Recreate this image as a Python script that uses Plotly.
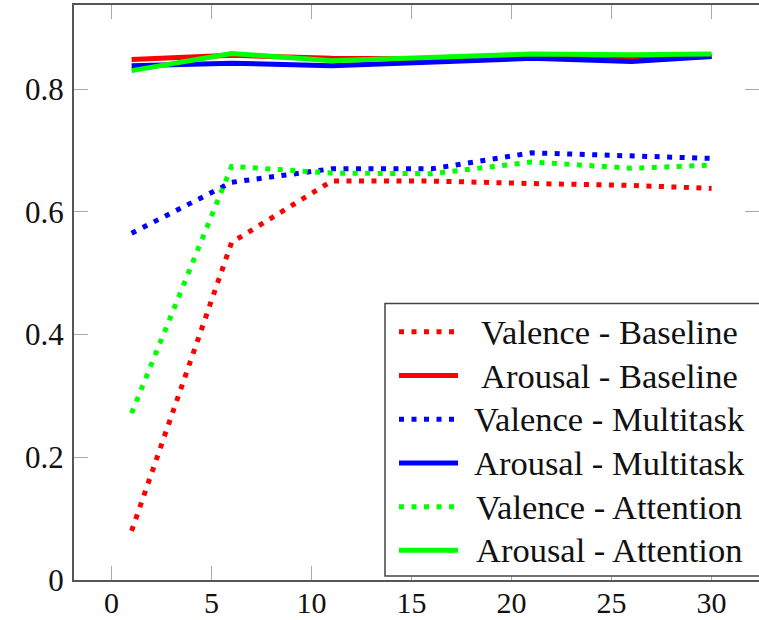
import plotly.graph_objects as go

epochs = [1, 6, 11, 16, 21, 26, 30]
valence_baseline = [0.080, 0.550, 0.650, 0.650, 0.646, 0.643, 0.638]
arousal_baseline = [0.848, 0.855, 0.850, 0.849, 0.851, 0.850, 0.853]
valence_multitask = [0.565, 0.648, 0.670, 0.670, 0.696, 0.692, 0.687]
arousal_multitask = [0.838, 0.842, 0.838, 0.843, 0.850, 0.845, 0.853]
valence_attention = [0.272, 0.674, 0.663, 0.662, 0.681, 0.671, 0.676]
arousal_attention = [0.830, 0.858, 0.846, 0.852, 0.857, 0.856, 0.857]

series_names = ["Valence - Baseline", "Arousal - Baseline",
                "Valence - Multitask", "Arousal - Multitask",
                "Valence - Attention", "Arousal - Attention"]
series_values = [valence_baseline, arousal_baseline, valence_multitask,
                 arousal_multitask, valence_attention, arousal_attention]

x_ticks = [0, 5, 10, 15, 20, 25, 30]
y_ticks = [0, 0.2, 0.4, 0.6, 0.8]
y_tick_labels = ["0", "0.2", "0.4", "0.6", "0.8"]

# styles
colors = ["#ff0000", "#ff0000", "#0000ff", "#0000ff", "#00ff00", "#00ff00"]
dashes = ["5px,7.5px", "solid"] * 3
SERIF = "Liberation Serif, Times New Roman, serif"

# figure geometry (pixels)
W, H = 759, 620
ML, MR, MT, MB = 74, 0, 5, 40
PW, PH = W - ML - MR, H - MT - MB


def px_x(p):
    return (p - ML) / PW


def px_y(p):
    return (H - MB - p) / PH


fig = go.Figure()
for name, vals, color, dash in zip(series_names, series_values, colors, dashes):
    fig.add_trace(go.Scatter(
        x=epochs, y=vals, mode="lines", name=name,
        line=dict(color=color, width=5, dash=dash),
    ))

# helper trace for the mirrored right-hand ticks
fig.add_trace(go.Scatter(x=[epochs[0]], y=[valence_baseline[0]], yaxis="y2",
                         mode="none", showlegend=False, hoverinfo="skip"))

# legend box drawn like the pgfplots legend
shapes = [dict(type="rect", xref="paper", yref="paper",
               x0=px_x(385), x1=px_x(772), y0=px_y(576), y1=px_y(303.5),
               line=dict(color="#444444", width=1.5), fillcolor="white",
               layer="above")]
annotations = []
row_y = [331.7, 375.5, 419.3, 463.0, 506.7, 550.3]
for name, color, dash, ry in zip(series_names, colors, dashes, row_y):
    shapes.append(dict(type="line", xref="paper", yref="paper",
                       x0=px_x(399), x1=px_x(458), y0=px_y(ry), y1=px_y(ry),
                       line=dict(color=color, width=5, dash=dash),
                       layer="above"))
    annotations.append(dict(text=name, xref="paper", yref="paper",
                            x=px_x(609), y=px_y(ry), xanchor="center",
                            yanchor="middle", showarrow=False,
                            font=dict(family=SERIF, size=34.5, color="#111111")))

tick_font = dict(family=SERIF, size=31, color="#111111")

fig.update_layout(
    template="none",
    width=W, height=H,
    margin=dict(l=ML, r=MR, t=MT, b=MB, autoexpand=False),
    plot_bgcolor="white", paper_bgcolor="white",
    showlegend=False,
    shapes=shapes, annotations=annotations,
    xaxis=dict(
        range=[-1.88, 32.37], tickvals=x_ticks, ticks="inside", ticklen=14,
        tickcolor="#aaaaaa", tickwidth=1, showline=True, linecolor="#555555",
        linewidth=2, mirror="ticks", showgrid=False, zeroline=False,
        tickfont=dict(family=SERIF, size=30, color="#111111"),
        automargin=False, ticklabelstandoff=-5,
    ),
    yaxis=dict(
        range=[0, 0.9369], tickvals=y_ticks, ticktext=y_tick_labels,
        ticks="inside", ticklen=14, tickcolor="#aaaaaa", tickwidth=1,
        showline=True, linecolor="#555555", linewidth=2, showgrid=False,
        zeroline=False, tickfont=tick_font, ticklabelstandoff=2,
        automargin=False,
    ),
    yaxis2=dict(
        range=[0, 0.9369], tickvals=y_ticks, overlaying="y", side="right",
        anchor="x", ticks="inside", ticklen=14, tickcolor="#aaaaaa",
        tickwidth=1, showline=False, showticklabels=False, showgrid=False,
        zeroline=False, automargin=False,
    ),
)

fig.write_html("out.html", config={"displayModeBar": False},
               post_script="document.body.style.margin='0';document.body.style.overflow='hidden';")
